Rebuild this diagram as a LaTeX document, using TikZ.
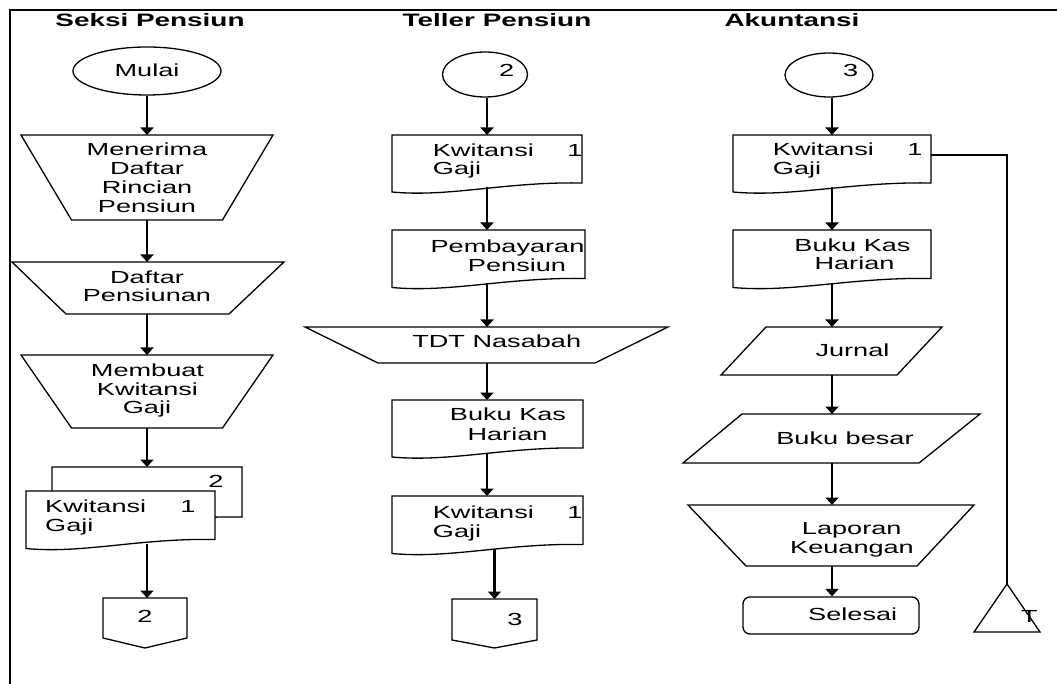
\documentclass[tikz,border=0pt]{standalone}
\usepackage{fontspec}
\setmainfont{Liberation Sans}[FakeStretch=1.55]
\usetikzlibrary{arrows.meta,shapes.geometric,fit,calc}

\tikzset{
  shp/.style={draw=black, line width=1.3pt, fill=white},
  box/.style={inner sep=0pt, outer sep=0pt, draw=none},
  arr/.style={line width=2.2pt, -{Triangle[length=7.5pt,width=13pt]}},
  conn/.style={line width=1.3pt},
  lbl/.style={inner sep=0pt, anchor=base, font=\fontsize{17.5}{19}\selectfont},
  lblw/.style={lbl, anchor=base west},
  ttl/.style={inner sep=0pt, anchor=base, font=\fontsize{18}{20}\selectfont\bfseries},
}

% document symbol with a wavy bottom edge
\newcommand\docpath[1]{%
  \draw[shp] (#1.north west) -- (#1.north east) -- ([yshift=4.5pt]#1.south east)
    .. controls ($(#1.south east)!0.4!(#1.south west)+(0,-6)$)
    and ($(#1.south east)!0.7!(#1.south west)+(0,10)$) .. ([yshift=-4.5pt]#1.south west) -- cycle;}
% manual operation: name, left inset, right inset
\newcommand\trappath[3]{%
  \draw[shp] (#1.north west) -- (#1.north east) -- ([xshift=-#3pt]#1.south east)
    -- ([xshift=#2pt]#1.south west) -- cycle;}
% data symbol: name, top-left slant, bottom-right slant
\newcommand\parapath[3]{%
  \draw[shp] (#1.south west) -- ([xshift=#2pt]#1.north west) -- (#1.north east)
    -- ([xshift=-#3pt]#1.south east) -- cycle;}
% off-page connector: name, depth of the point
\newcommand\offpage[2]{%
  \draw[shp] (#1.north west) -- (#1.north east) -- (#1.south east)
    -- ([yshift=-#2pt]#1.south) -- (#1.south west) -- cycle;}

\begin{document}
\begin{tikzpicture}[x=1pt,y=-1pt]
\useasboundingbox (0,0) rectangle (1057,684);

% outer frame
\draw[line width=2pt] (10,690) -- (10,10) -- (1062,10);

% ---------------- Seksi Pensiun ----------------
\node[ttl] (h1) at (150,26.7) {Seksi Pensiun};
\node[shp, ellipse, inner sep=0pt, minimum width=148pt, minimum height=48pt] (mulai) at (147,71) {};
\node[lbl] (l-mulai) at (147,77) {Mulai};

\node[box, fit={(21,135) (273,220)}] (t1) {};
\trappath{t1}{50.5}{50.5}
\node[lbl] (l-t1a) at (147,156) {Menerima};
\node[lbl] (l-t1b) at (147,175) {Daftar};
\node[lbl] (l-t1c) at (147,194) {Rincian};
\node[lbl] (l-t1d) at (147,212.5) {Pensiun};

\node[box, fit={(12,262) (284,314)}] (t2) {};
\trappath{t2}{54}{55}
\node[lbl] (l-t2a) at (147,283.3) {Daftar};
\node[lbl] (l-t2b) at (147,301.7) {Pensiunan};

\node[box, fit={(21,355) (273,428)}] (t3) {};
\trappath{t3}{50.5}{50.5}
\node[lbl] (l-t3a) at (147.5,376.7) {Membuat};
\node[lbl] (l-t3b) at (147.5,395.7) {Kwitansi};
\node[lbl] (l-t3c) at (147,413.5) {Gaji};

\node[box, fit={(52,467) (242,521.5)}] (kw2) {};
\docpath{kw2}
\node[lbl] (l-kw2) at (216,487.3) {2};
\node[box, fit={(26,491) (215,544)}] (kw1) {};
\docpath{kw1}
\node[lblw] (l-kw1a) at (45,512.7) {Kwitansi};
\node[lbl] (l-kw1n) at (188,512.7) {1};
\node[lblw] (l-kw1b) at (45,531) {Gaji};

\node[box, fit={(103,598) (187,638)}] (o1) {};
\offpage{o1}{10}
\node[lbl] (l-o1) at (145,622.7) {2};

\draw[arr] (mulai.south) -- (mulai.south |- t1.north);
\draw[arr] (t1.south) -- (t1.south |- t2.north);
\draw[arr] (t2.south -| t1.south) -- (t1.south |- t3.north);
\draw[arr] (t3.south) -- (t3.south |- kw2.north);
\draw[arr] ([xshift=2pt]o1.north |- kw1.south) -- ([xshift=2pt]o1.north);

% ---------------- Teller Pensiun ----------------
\node[ttl] (h2) at (497,26.7) {Teller Pensiun};
\node[shp, ellipse, inner sep=0pt, minimum width=85pt, minimum height=45pt] (c2) at (485,74.5) {};
\node[lbl] (l-c2) at (506.7,76.7) {2};

\node[box, fit={(392,135) (582,187.5)}] (d1) {};
\docpath{d1}
\node[lblw] (l-d1a) at (432.7,156.7) {Kwitansi};
\node[lbl] (l-d1n) at (575,156.7) {1};
\node[lblw] (l-d1b) at (432.7,175) {Gaji};

\node[box, fit={(392,230) (585,283)}] (d2) {};
\docpath{d2}
\node[lbl] (l-d2a) at (507.5,253) {Pembayaran};
\node[lbl] (l-d2b) at (517,271.7) {Pensiun};

\node[box, fit={(305,327) (668,363)}] (tdt) {};
\trappath{tdt}{73}{73}
\node[lbl] (l-tdt) at (496.7,347.3) {TDT Nasabah};

\node[box, fit={(392,400) (583,452.5)}] (d3) {};
\docpath{d3}
\node[lbl] (l-d3a) at (508,420.7) {Buku Kas};
\node[lbl] (l-d3b) at (507.5,440) {Harian};

\node[box, fit={(392,496) (583,549)}] (d4) {};
\docpath{d4}
\node[lblw] (l-d4a) at (432.7,518.3) {Kwitansi};
\node[lbl] (l-d4n) at (575,518.3) {1};
\node[lblw] (l-d4b) at (432.7,537) {Gaji};

\node[box, fit={(452,599) (537,640)}] (o2) {};
\offpage{o2}{8}
\node[lbl] (l-o2) at (515,625) {3};

\draw[arr] (c2.south -| d1.north) -- (d1.north);
\draw[arr] (d1.south) -- (d1.south |- d2.north);
\draw[arr] (d2.south -| d1.south) -- (d1.south |- tdt.north);
\draw[arr] (tdt.south -| d1.south) -- (d1.south |- d3.north);
\draw[arr] (d3.south -| d1.south) -- (d1.south |- d4.north);
\draw[arr] (o2.north |- d4.south) -- (o2.north);

% ---------------- Akuntansi ----------------
\node[ttl] (h3) at (792,26.7) {Akuntansi};
\node[shp, ellipse, inner sep=0pt, minimum width=88pt, minimum height=44pt] (c3) at (829,75) {};
\node[lbl] (l-c3) at (850.7,76.7) {3};

\node[box, fit={(733,135) (931,187.5)}] (e1) {};
\docpath{e1}
\node[lblw] (l-e1a) at (772.7,156) {Kwitansi};
\node[lbl] (l-e1n) at (915,156) {1};
\node[lblw] (l-e1b) at (772.7,175) {Gaji};

\node[box, fit={(733,230) (931,283)}] (e2) {};
\docpath{e2}
\node[lbl] (l-e2a) at (852.5,251.7) {Buku Kas};
\node[lbl] (l-e2b) at (854.5,270) {Harian};

\node[box, fit={(721,327) (942,375)}] (jur) {};
\parapath{jur}{45}{45}
\node[lbl] (l-jur) at (852.5,356.7) {Jurnal};

\node[box, fit={(683,414) (980,463)}] (bb) {};
\parapath{bb}{59}{61}
\node[lbl] (l-bb) at (845,444) {Buku besar};

\node[box, fit={(688,505) (974,566)}] (lap) {};
\trappath{lap}{58}{57}
\node[lbl] (l-lapa) at (851.7,534.3) {Laporan};
\node[lbl] (l-lapb) at (852,553.3) {Keuangan};

\node[shp, rounded corners=7pt, inner sep=0pt, fit={(743,597) (919,634)}] (sel) {};
\node[lbl] (l-sel) at (852.7,620.7) {Selesai};

\coordinate (tapex) at (1007,584);
\draw[shp] (tapex) -- (1040,632) -- (974,632) -- cycle;
\node[lbl] (l-t) at (1029.5,622.7) {T};

\draw[arr] (c3.south -| e1.north) -- (e1.north);
\draw[arr] (e1.south) -- (e1.south |- e2.north);
\draw[arr] (e2.south) -- (e2.south |- jur.north);
\draw[arr] (e2.south |- jur.south) -- (e2.south |- bb.north);
\draw[arr] (e2.south |- bb.south) -- (e2.south |- lap.north);
\draw[arr] (e2.south |- lap.south) -- (e2.south |- sel.north);
\draw[conn] ([yshift=-20pt]e1.north east) -| (tapex);

\end{tikzpicture}
\end{document}
